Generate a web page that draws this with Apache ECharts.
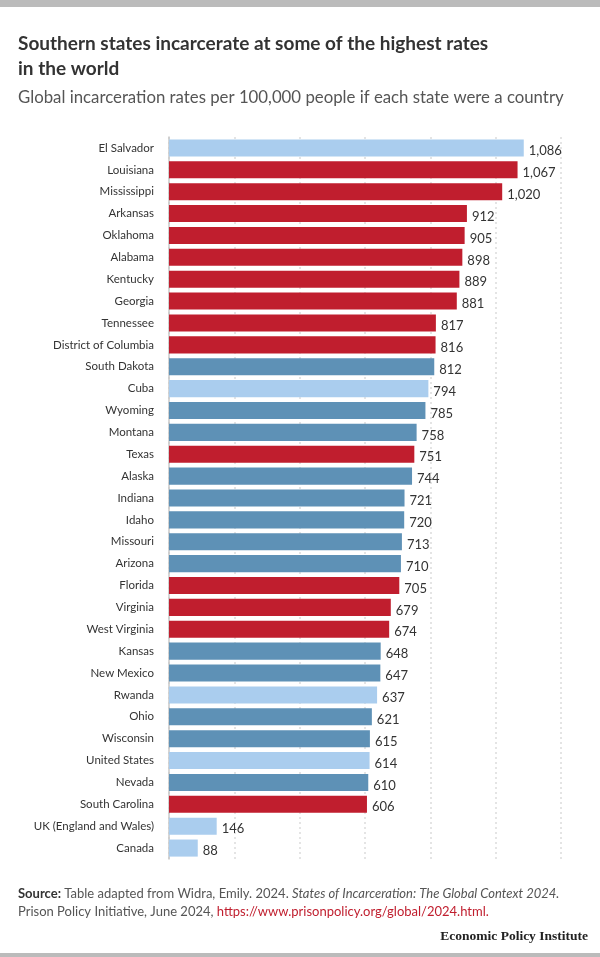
<!DOCTYPE html>
<html><head><meta charset="utf-8">
<script src="https://cdn.jsdelivr.net/npm/echarts@6/dist/echarts.min.js"></script>
<style>html,body{margin:0;padding:0;background:#fff}#c{width:600px;height:957px}</style>
</head><body><div id="c"></div>
<script>
const categories = ["El Salvador","Louisiana","Mississippi","Arkansas","Oklahoma","Alabama","Kentucky","Georgia","Tennessee","District of Columbia","South Dakota","Cuba","Wyoming","Montana","Texas","Alaska","Indiana","Idaho","Missouri","Arizona","Florida","Virginia","West Virginia","Kansas","New Mexico","Rwanda","Ohio","Wisconsin","United States","Nevada","South Carolina","UK (England and Wales)","Canada"];
const values = [1086,1067,1020,912,905,898,889,881,817,816,812,794,785,758,751,744,721,720,713,710,705,679,674,648,647,637,621,615,614,610,606,146,88];
const groups = ["country","south","south","south","south","south","south","south","south","south","other","country","other","other","south","other","other","other","other","other","south","south","south","other","other","country","other","other","country","other","south","country","country"];
const xTicks = [0,200,400,600,800,1000,1200];

const colorOf = {country:"#aacdee", south:"#c01e2e", other:"#5e91b6"};
const FONT = "Lato";
const chart = echarts.init(document.getElementById('c'), null, {renderer:'canvas'});
chart.setOption({
  animation:false,
  backgroundColor:'#fff',
  title:[
    {text:"Southern states incarcerate at some of the highest rates\nin the world", left:18, top:31, padding:0,
     textStyle:{fontFamily:FONT, fontWeight:'bold', fontSize:19, color:'#333', lineHeight:25}},
    {text:"Global incarceration rates per 100,000 people if each state were a country", left:18, top:88, padding:0,
     textStyle:{fontFamily:FONT, fontWeight:'normal', fontSize:16.8, color:'#555', lineHeight:20}}
  ],
  grid:{left:169, right:39, top:137, height:722, containLabel:false},
  xAxis:{type:'value', min:xTicks[0], max:xTicks[xTicks.length-1], interval:200,
    axisLabel:{show:false}, axisLine:{show:false}, axisTick:{show:false},
    splitLine:{show:true, lineStyle:{color:'#dcdcdc', type:[2,3], width:1.5}}},
  yAxis:{type:'category', data:categories, inverse:true,
    axisLine:{show:true, lineStyle:{color:'#c8c8c8', width:1.5}},
    axisTick:{show:false},
    axisLabel:{fontFamily:FONT, fontSize:11.5, color:'#333', margin:15}},
  series:[{type:'bar', barCategoryGap:'22%',
    data: values.map((v,i)=>({value:v, itemStyle:{color:colorOf[groups[i]]}})),
    label:{show:true, position:'right', distance:5, offset:[0,3],
      fontFamily:FONT, fontSize:13, color:'#333',
      formatter:p=>p.value.toLocaleString('en-US')}
  }],
  graphic:[
    {type:'rect', left:0, top:0, shape:{width:600, height:7}, style:{fill:'#bbbbbb'}},
    {type:'rect', left:0, top:953, shape:{width:600, height:4}, style:{fill:'#bbbbbb'}},
    {type:'text', left:18, top:885, style:{
      text:"{b|Source:} Table adapted from Widra, Emily. 2024. {i|States of Incarceration: The Global Context 2024.}\nPrison Policy Initiative, June 2024, {r|https://www.prisonpolicy.org/global/2024.html.}",
      fontFamily:FONT, fontSize:13, fill:'#555', lineHeight:18,
      rich:{b:{fontFamily:FONT, fontWeight:'bold', fontSize:13, fill:'#333'},
            i:{fontFamily:FONT, fontStyle:'italic', fontSize:13, fill:'#555'},
            r:{fontFamily:FONT, fontSize:13, fill:'#c01e2e'}}}},
    {type:'text', right:12, top:930, style:{text:"Economic Policy Institute",
      fontFamily:"Liberation Serif", fontWeight:'bold', fontSize:13.5, fill:'#222'}}
  ]
});
</script></body></html>
